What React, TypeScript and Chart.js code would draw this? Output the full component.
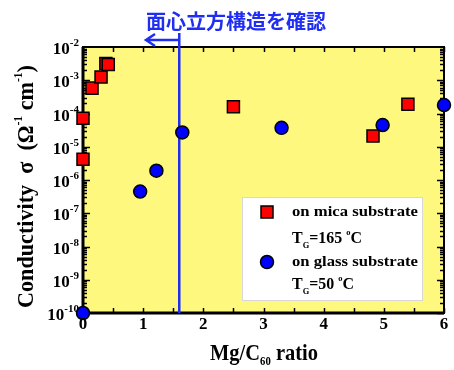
import React, { useEffect, useRef } from "react";
import { Chart, registerables } from "chart.js";

Chart.register(...registerables);

// ---- data ----
const micaX = [0, 0, 0.15, 0.3, 0.38, 0.42, 2.5, 4.82, 5.4];
const micaY = [4.2e-6, 7.2e-5, 5.8e-4, 1.25e-3, 3.2e-3, 3.0e-3, 1.6e-4, 2.1e-5, 1.9e-4];
const glassX = [0, 0.95, 1.22, 1.65, 3.3, 4.98, 6.0];
const glassY = [1e-10, 4.5e-7, 1.9e-6, 2.7e-5, 3.7e-5, 4.5e-5, 1.8e-4];
const xTickValues = [0, 1, 2, 3, 4, 5, 6];
const yDecades = [-2, -3, -4, -5, -6, -7, -8, -9, -10];
const fccRatio = 1.6;
const annotationText = "面心立方構造を確認";
const legendSeries = ["on mica substrate", "on glass substrate"];
const legendTemps = ["165", "50"];

const SERIF = '"Liberation Serif", "Times New Roman", serif';
const CJK = '"Noto Sans CJK JP", sans-serif';

type Part = [string, "n" | "sup" | "sub"];

// draws mixed text horizontally starting at x0 (in current transform), stretched to width w
function drawParts(ctx: any, parts: Part[], x0: number, y: number, big: string, small: string, w: number, supDy: number, subDy: number) {
  let total = 0;
  for (const [t, k] of parts) {
    ctx.font = k === "n" ? big : small;
    total += ctx.measureText(t).width;
  }
  ctx.save();
  ctx.translate(x0, y);
  ctx.scale(w / total, 1);
  let x = 0;
  for (const [t, k] of parts) {
    ctx.font = k === "n" ? big : small;
    ctx.fillText(t, x, k === "sup" ? supDy : k === "sub" ? subDy : 0);
    x += ctx.measureText(t).width;
  }
  ctx.restore();
}

const decorPlugin = {
  id: "decor",
  beforeDatasetsDraw(chart: any) {
    const { ctx, chartArea: a, scales } = chart;
    const xs = scales.x;
    const ys = scales.y;
    ctx.save();
    ctx.fillStyle = "#fff87e";
    ctx.fillRect(a.left, a.top, a.right - a.left, a.bottom - a.top);

    ctx.strokeStyle = "#000";
    ctx.lineWidth = 1.5;
    ctx.beginPath();
    for (let v = 0; v <= 6; v += 0.5) {
      const px = Math.round(xs.getPixelForValue(v)) + 0.5;
      ctx.moveTo(px, a.top);
      ctx.lineTo(px, a.top + 5);
      ctx.moveTo(px, a.bottom);
      ctx.lineTo(px, a.bottom - 5);
    }
    for (let d = -10; d < -2; d++) {
      for (let m = 1; m <= 9; m++) {
        const v = m * Math.pow(10, d);
        const py = Math.round(ys.getPixelForValue(v)) + 0.5;
        const len = m === 1 ? 7 : 4;
        ctx.moveTo(a.left, py);
        ctx.lineTo(a.left + len, py);
        ctx.moveTo(a.right, py);
        ctx.lineTo(a.right - len, py);
      }
    }
    ctx.stroke();

    ctx.lineWidth = 2;
    ctx.strokeRect(a.left, a.top, a.right - a.left, a.bottom - a.top);
    ctx.lineWidth = 3;
    ctx.beginPath();
    ctx.moveTo(a.left, a.top);
    ctx.lineTo(a.left, a.bottom);
    ctx.lineTo(a.right, a.bottom);
    ctx.stroke();

    const lx = xs.getPixelForValue(fccRatio);
    ctx.strokeStyle = "#1f2ef2";
    ctx.lineWidth = 2.5;
    ctx.beginPath();
    ctx.moveTo(lx, 33);
    ctx.lineTo(lx, a.bottom);
    ctx.moveTo(lx, 40);
    ctx.lineTo(146, 40);
    ctx.moveTo(155, 34);
    ctx.lineTo(146, 40);
    ctx.lineTo(155, 46);
    ctx.stroke();
    ctx.restore();
  },
  afterDraw(chart: any) {
    const { ctx, scales } = chart;
    const xs = scales.x;
    const ys = scales.y;
    ctx.save();
    ctx.fillStyle = "#000";
    ctx.textBaseline = "alphabetic";
    ctx.textAlign = "left";

    // y tick labels
    for (const d of yDecades) {
      const py = ys.getPixelForValue(Math.pow(10, d));
      ctx.font = `bold 17px ${SERIF}`;
      const wb = ctx.measureText("10").width;
      ctx.font = `bold 11px ${SERIF}`;
      const sup = "-" + Math.abs(d);
      const ws = ctx.measureText(sup).width;
      const x0 = 79 - wb - ws;
      ctx.font = `bold 17px ${SERIF}`;
      ctx.fillText("10", x0, py + 7);
      ctx.font = `bold 11px ${SERIF}`;
      ctx.fillText(sup, x0 + wb, py - 1);
    }

    // x tick labels
    ctx.font = `bold 17px ${SERIF}`;
    ctx.textAlign = "center";
    for (const v of xTickValues) {
      ctx.fillText(String(v), xs.getPixelForValue(v), 329);
    }
    ctx.textAlign = "left";

    // x title
    drawParts(
      ctx,
      [["Mg/C", "n"], ["60", "sub"], [" ratio", "n"]],
      210, 360, `bold 23px ${SERIF}`, `bold 12px ${SERIF}`, 108, -10, 5
    );

    // y title (rotated)
    ctx.save();
    ctx.translate(33, 308);
    ctx.rotate(-Math.PI / 2);
    drawParts(
      ctx,
      [["Conductivity  σ  (Ω", "n"], ["-1", "sup"], [" cm", "n"], ["-1", "sup"], [")", "n"]],
      0, 0, `bold 23px ${SERIF}`, `bold 12px ${SERIF}`, 243, -11, 4
    );
    ctx.restore();

    // annotation
    ctx.fillStyle = "#1f2ef2";
    ctx.font = `bold 20px ${CJK}`;
    ctx.textBaseline = "middle";
    ctx.fillText(annotationText, 146, 21);
    ctx.textBaseline = "alphabetic";

    // legend box
    ctx.fillStyle = "#ffffff";
    ctx.fillRect(242, 197, 180, 103);
    ctx.strokeStyle = "#d8d8d8";
    ctx.lineWidth = 1;
    ctx.strokeRect(242.5, 197.5, 180, 103);

    ctx.lineWidth = 1.5;
    ctx.strokeStyle = "#000";
    ctx.fillStyle = "#ff0000";
    ctx.fillRect(261, 206, 12, 12);
    ctx.strokeRect(261, 206, 12, 12);
    ctx.fillStyle = "#0000ff";
    ctx.beginPath();
    ctx.arc(267, 262, 6.5, 0, Math.PI * 2);
    ctx.fill();
    ctx.stroke();

    ctx.fillStyle = "#000";
    drawParts(ctx, [[legendSeries[0], "n"]], 292, 216, `bold 15px ${SERIF}`, `bold 8px ${SERIF}`, 126, 0, 0);
    drawParts(ctx, [[legendSeries[1], "n"]], 292, 266, `bold 15px ${SERIF}`, `bold 8px ${SERIF}`, 126, 0, 0);
    const tParts = (t: string): Part[] => [["T", "n"], ["G", "sub"], ["=" + t + " ", "n"], ["o", "sup"], ["C", "n"]];
    drawParts(ctx, tParts(legendTemps[0]), 292, 243, `bold 17px ${SERIF}`, `bold 9px ${SERIF}`, 70, -8, 5);
    drawParts(ctx, tParts(legendTemps[1]), 292, 289, `bold 17px ${SERIF}`, `bold 9px ${SERIF}`, 62, -8, 5);

    ctx.restore();
  },
};

export default function App() {
  const ref = useRef<HTMLCanvasElement | null>(null);
  useEffect(() => {
    document.body.style.margin = "0";
    if (!ref.current) return;
    const chart = new Chart(ref.current, {
      type: "scatter",
      data: {
        datasets: [
          {
            label: legendSeries[0],
            data: micaX.map((x, i) => ({ x, y: micaY[i] })),
            pointStyle: "rect",
            pointRadius: 8.5,
            backgroundColor: "#ff0000",
            borderColor: "#000",
            borderWidth: 1.5,
            clip: false as any,
          },
          {
            label: legendSeries[1],
            data: glassX.map((x, i) => ({ x, y: glassY[i] })),
            pointStyle: "circle",
            pointRadius: 6.5,
            backgroundColor: "#0000ff",
            borderColor: "#000",
            borderWidth: 1.5,
            clip: false as any,
          },
        ],
      },
      options: {
        responsive: false,
        animation: false,
        layout: { padding: { left: 83, top: 47, right: 7, bottom: 57 } },
        plugins: { legend: { display: false }, tooltip: { enabled: false } },
        scales: {
          x: { type: "linear", min: 0, max: 6, display: false },
          y: { type: "logarithmic", min: 1e-10, max: 1e-2, display: false },
        },
      },
      plugins: [decorPlugin],
    });
    return () => chart.destroy();
  }, []);
  return (
    <div style={{ width: 454, height: 370, background: "#fff" }}>
      <canvas ref={ref} width={454} height={370} />
    </div>
  );
}
